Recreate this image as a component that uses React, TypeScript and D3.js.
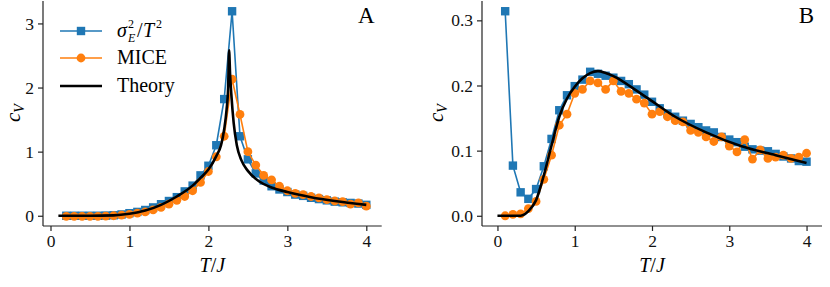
import { useEffect, useRef } from "react";
import * as d3 from "d3";

// Panel A: T grid for the sampled points (0.2 .. 4.0)
const tempsA = [
  0.2, 0.3, 0.4, 0.5, 0.6, 0.7, 0.8, 0.9, 1.0, 1.1, 1.2, 1.3, 1.4, 1.5, 1.6, 1.7, 1.8, 1.9, 2.0, 2.1,
  2.2, 2.3, 2.4, 2.5, 2.6, 2.7, 2.8, 2.9, 3.0, 3.1, 3.2, 3.3, 3.4, 3.5, 3.6, 3.7, 3.8, 3.9, 4.0,
];
const varianceA = [
  0.0, 0.0, 0.0, 0.0, 0.0, 0.003, 0.008, 0.02, 0.04, 0.06, 0.09, 0.13, 0.18, 0.23, 0.29, 0.38, 0.47,
  0.63, 0.78, 1.1, 1.82, 3.19, 1.24, 0.88, 0.66, 0.55, 0.46, 0.41, 0.37, 0.33, 0.31, 0.28, 0.26, 0.24,
  0.22, 0.21, 0.2, 0.19, 0.17,
];
const miceA = [
  -0.01, -0.01, -0.01, -0.01, -0.01, -0.005, 0.0, 0.01, 0.02, 0.04, 0.06, 0.09, 0.13, 0.18, 0.24, 0.3,
  0.39, 0.52, 0.69, 0.92, 1.24, 2.13, 1.58, 1.0, 0.79, 0.63, 0.56, 0.46, 0.39, 0.35, 0.33, 0.3, 0.28,
  0.25, 0.23, 0.22, 0.18, 0.2, 0.15,
];
const theoryTA = [
  0.1, 0.5, 0.8, 1.0, 1.2, 1.4, 1.6, 1.8, 1.9, 2.0, 2.1, 2.16, 2.2, 2.23, 2.25, 2.262, 2.275, 2.29,
  2.32, 2.36, 2.42, 2.5, 2.65, 2.8, 3.0, 3.3, 3.6, 4.0,
];
const theoryA = [
  0.0, 0.0, 0.005, 0.03, 0.08, 0.17, 0.3, 0.47, 0.59, 0.72, 0.93, 1.1, 1.35, 1.65, 2.0, 2.58, 2.2, 1.9,
  1.45, 1.1, 0.86, 0.7, 0.53, 0.44, 0.37, 0.29, 0.23, 0.17,
];

// Panel B
const tempsB = [
  0.1, 0.2, 0.3, 0.4, 0.5, 0.6, 0.7, 0.8, 0.9, 1.0, 1.1, 1.2, 1.3, 1.4, 1.5, 1.6, 1.7, 1.8, 1.9, 2.0,
  2.1, 2.2, 2.3, 2.4, 2.5, 2.6, 2.7, 2.8, 2.9, 3.0, 3.1, 3.2, 3.3, 3.4, 3.5, 3.6, 3.7, 3.8, 3.9, 4.0,
];
const varianceB = [
  0.314, 0.077, 0.036, 0.026, 0.041, 0.076, 0.118, 0.162, 0.185, 0.199, 0.209, 0.221, 0.218, 0.215,
  0.212, 0.207, 0.202, 0.194, 0.186, 0.175, 0.165, 0.157, 0.152, 0.146, 0.141, 0.136, 0.131, 0.128,
  0.121, 0.117, 0.113, 0.106, 0.102, 0.1, 0.099, 0.095, 0.091, 0.088, 0.084, 0.083,
];
const miceB = [
  0.0, 0.002, 0.003, 0.011, 0.022, 0.056, 0.093, 0.139, 0.156, 0.188, 0.194, 0.207, 0.204, 0.194,
  0.207, 0.191, 0.188, 0.179, 0.173, 0.156, 0.16, 0.152, 0.146, 0.144, 0.131, 0.128, 0.121, 0.114,
  0.121, 0.107, 0.098, 0.117, 0.087, 0.101, 0.088, 0.09, 0.093, 0.088, 0.09, 0.096,
];
const theoryTB = [
  0.0, 0.3, 0.35, 0.4, 0.5, 0.6, 0.7, 0.8, 0.9, 1.0, 1.1, 1.2, 1.3, 1.4, 1.6, 1.8, 2.0, 2.3, 2.7, 3.15,
  3.6, 4.0,
];
const theoryB = [
  0.0, 0.0, 0.002, 0.007, 0.024, 0.062, 0.108, 0.152, 0.18, 0.198, 0.211, 0.219, 0.222, 0.219, 0.208,
  0.192, 0.176, 0.152, 0.128, 0.107, 0.093, 0.081,
];

const xTicks = [0, 1, 2, 3, 4];
const yTicksA = [0, 1, 2, 3];
const yTicksB = [0, 0.1, 0.2, 0.3];

const BLUE = "#1f77b4";
const ORANGE = "#ff7f0e";
const FONT = "'Liberation Serif', 'DejaVu Serif', serif";

type Pt = [number, number];
const zip = (xs: number[], ys: number[]): Pt[] => xs.map((x, i) => [x, ys[i]]);

export default function App() {
  const ref = useRef<SVGSVGElement>(null);

  useEffect(() => {
    if (!ref.current) return;
    const svg = d3.select(ref.current);
    svg.selectAll("*").remove();

    const panels = [
      {
        xDom: [-0.095, 4.195],
        xRange: [43, 381.7],
        yDom: [-0.16, 3.35],
        yTicks: yTicksA,
        yFmt: (d: number) => d3.format("d")(d),
        variance: zip(tempsA, varianceA),
        mice: zip(tempsA, miceA),
        theory: zip(theoryTA, theoryA),
        label: "A",
        yLabelX: 14,
      },
      {
        xDom: [-0.2, 4.2],
        xRange: [482, 822],
        yDom: [-0.0157, 0.3297],
        yTicks: yTicksB,
        yFmt: (d: number) => d3.format(".1f")(d),
        variance: zip(tempsB, varianceB),
        mice: zip(tempsB, miceB),
        theory: zip(theoryTB, theoryB),
        label: "B",
        yLabelX: 437,
      },
    ];

    const bottom = 226;
    const top = 1;

    panels.forEach((p) => {
      const x = d3.scaleLinear().domain(p.xDom).range(p.xRange);
      const y = d3.scaleLinear().domain(p.yDom).range([bottom, top]);
      const g = svg.append("g");

      // x axis
      const xa = g
        .append("g")
        .attr("transform", `translate(0,${bottom})`)
        .call(d3.axisBottom(x).tickValues(xTicks).tickSize(5).tickPadding(4).tickFormat(d3.format("d")));
      xa.select(".domain").attr("stroke", "#222").attr("stroke-width", 1.2);
      xa.selectAll(".tick line").attr("stroke", "#222").attr("stroke-width", 1.2);
      xa.selectAll(".tick text").attr("font-family", FONT).attr("font-size", 17.5).attr("fill", "#111");

      // y axis
      const ya = g
        .append("g")
        .attr("transform", `translate(${p.xRange[0]},0)`)
        .call(d3.axisLeft(y).tickValues(p.yTicks).tickSize(5).tickPadding(4).tickFormat(p.yFmt as any));
      ya.select(".domain").attr("stroke", "#222").attr("stroke-width", 1.2);
      ya.selectAll(".tick line").attr("stroke", "#222").attr("stroke-width", 1.2);
      ya.selectAll(".tick text").attr("font-family", FONT).attr("font-size", 17.5).attr("fill", "#111");
      // plain spines, no end caps
      xa.select(".domain").attr("d", `M${p.xRange[0]},0H${p.xRange[1]}`);
      ya.select(".domain").attr("d", `M0,${bottom}V${top}`);

      const line = d3
        .line<Pt>()
        .x((d) => x(d[0]))
        .y((d) => y(d[1]));

      // variance series
      g.append("path")
        .datum(p.variance)
        .attr("fill", "none")
        .attr("stroke", BLUE)
        .attr("stroke-width", 1.6)
        .attr("d", line);
      g.selectAll(".sq")
        .data(p.variance)
        .join("rect")
        .attr("x", (d) => x(d[0]) - 4.2)
        .attr("y", (d) => y(d[1]) - 4.2)
        .attr("width", 8.4)
        .attr("height", 8.4)
        .attr("fill", BLUE);

      // MICE series
      g.append("path")
        .datum(p.mice)
        .attr("fill", "none")
        .attr("stroke", ORANGE)
        .attr("stroke-width", 1.6)
        .attr("d", line);
      g.selectAll(".dot")
        .data(p.mice)
        .join("circle")
        .attr("cx", (d) => x(d[0]))
        .attr("cy", (d) => y(d[1]))
        .attr("r", 4.4)
        .attr("fill", ORANGE);

      // theory
      g.append("path")
        .datum(p.theory)
        .attr("fill", "none")
        .attr("stroke", "#000")
        .attr("stroke-width", 2.6)
        .attr("d", line.curve(d3.curveMonotoneX));

      // panel letter
      g.append("text")
        .attr("x", x(4))
        .attr("y", 23)
        .attr("text-anchor", "middle")
        .attr("font-family", FONT)
        .attr("font-size", 23)
        .text(p.label);

      // axis labels
      const xl = g
        .append("text")
        .attr("x", (p.xRange[0] + p.xRange[1]) / 2)
        .attr("y", 272)
        .attr("text-anchor", "middle")
        .attr("font-family", FONT)
        .attr("font-size", 20);
      xl.append("tspan").attr("font-style", "italic").text("T");
      xl.append("tspan").text("/");
      xl.append("tspan").attr("font-style", "italic").text("J");

      const yl = g
        .append("text")
        .attr("transform", `translate(${p.yLabelX + 6},${113}) rotate(-90)`)
        .attr("text-anchor", "middle")
        .attr("font-family", FONT)
        .attr("font-size", 21);
      yl.append("tspan").attr("font-style", "italic").text("c");
      yl.append("tspan").attr("font-style", "italic").attr("font-size", 14).attr("dy", 4).text("V");
    });

    // legend (panel A)
    const lg = svg.append("g");
    const rows = [31, 58, 86];
    lg.append("line").attr("x1", 60).attr("x2", 102).attr("y1", rows[0]).attr("y2", rows[0]).attr("stroke", BLUE).attr("stroke-width", 1.6);
    lg.append("rect").attr("x", 81 - 4.2).attr("y", rows[0] - 4.2).attr("width", 8.4).attr("height", 8.4).attr("fill", BLUE);
    lg.append("line").attr("x1", 60).attr("x2", 102).attr("y1", rows[1]).attr("y2", rows[1]).attr("stroke", ORANGE).attr("stroke-width", 1.6);
    lg.append("circle").attr("cx", 81).attr("cy", rows[1]).attr("r", 4.4).attr("fill", ORANGE);
    lg.append("line").attr("x1", 60).attr("x2", 102).attr("y1", rows[2]).attr("y2", rows[2]).attr("stroke", "#000").attr("stroke-width", 2.6);

    const txt = (xx: number, yy: number, s: string, size: number, italic = false) =>
      lg
        .append("text")
        .attr("x", xx)
        .attr("y", yy)
        .attr("font-family", FONT)
        .attr("font-size", size)
        .attr("font-style", italic ? "italic" : "normal")
        .text(s);

    const r0 = rows[0];
    txt(117, r0 + 6, "σ", 20, true);
    txt(128, r0 - 3, "2", 12);
    txt(128, r0 + 11, "E", 12, true);
    txt(137, r0 + 6, "/", 20);
    txt(143, r0 + 6, "T", 20, true);
    txt(156, r0 - 3, "2", 12);

    txt(117, rows[1] + 6, "MICE", 20);
    txt(117, rows[2] + 6, "Theory", 20);
  }, []);

  return (
    <div style={{ position: "fixed", left: 0, top: 0, background: "#fff" }}>
      <svg ref={ref} width={830} height={287} style={{ display: "block" }} />
    </div>
  );
}
